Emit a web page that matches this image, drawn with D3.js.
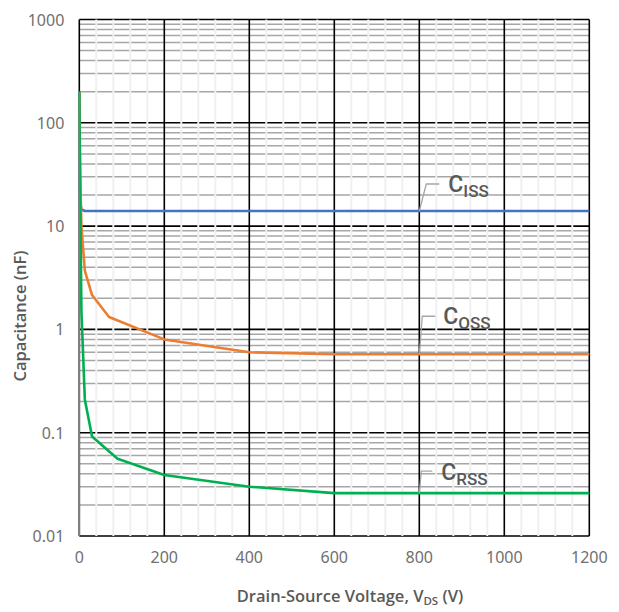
<!DOCTYPE html>
<html>
<head>
<meta charset="utf-8">
<script src="https://cdn.jsdelivr.net/npm/d3@7"></script>
<style>
  body { margin: 0; background: #fff; }
  svg { display: block; }
  text { font-family: "Noto Sans", "Open Sans", sans-serif; }
</style>
</head>
<body>
<div id="chart"></div>
<script>
// values (V in volts, C in nF)
const cissData = [[0, 200], [2, 17], [5, 14.5], [13, 14], [30, 14], [200, 14], [400, 14], [600, 14], [800, 14], [1200, 14]]
const cossData = [[0, 200], [2, 30], [5, 10], [13, 3.7], [30, 2.15], [70, 1.32], [200, 0.8], [400, 0.6], [600, 0.575], [800, 0.575], [1200, 0.575]]
const crssData = [[0, 200], [2, 20], [5, 1.5], [13, 0.21], [30, 0.092], [90, 0.056], [200, 0.039], [400, 0.03], [600, 0.026], [800, 0.026], [1200, 0.026]]

const xTicks = [0, 200, 400, 600, 800, 1000, 1200]
const yTicks = [0.01, 0.1, 1, 10, 100, 1000]

const width = 619
const height = 612
const margin = {top: 19.5, right: 29.7, bottom: 76, left: 79.3}

const svg = d3.select("#chart").append("svg")
  .attr("width", width)
  .attr("height", height)

const x = d3.scaleLinear().domain([0, 1200]).range([margin.left, width - margin.right])
const y = d3.scaleLog().domain([0.01, 1000]).range([height - margin.bottom, margin.top])

const grid = svg.append("g")

// minor horizontal lines (2..9 of each decade)
const minorY = []
for (let d = 0.01; d < 1000; d *= 10) {
  for (let k = 2; k <= 9; k++) minorY.push(d * k)
}
grid.selectAll("line.minor-y")
  .data(minorY)
  .join("line")
  .attr("x1", x(0)).attr("x2", x(1200))
  .attr("y1", d => y(d)).attr("y2", d => y(d))
  .attr("stroke", "#a6a6a6")
  .attr("stroke-width", 1.5)

grid.selectAll("line.major-y")
  .data(yTicks)
  .join("line")
  .attr("x1", x(0)).attr("x2", x(1200))
  .attr("y1", d => y(d)).attr("y2", d => y(d))
  .attr("stroke", "#000")
  .attr("stroke-width", 1.6)

// light minor verticals every 40 V, drawn over the horizontals
const minorX = d3.range(40, 1200, 40).filter(v => v % 200 !== 0)
grid.selectAll("line.minor-x")
  .data(minorX)
  .join("line")
  .attr("x1", d => x(d)).attr("x2", d => x(d))
  .attr("y1", y(1000)).attr("y2", y(0.01))
  .attr("stroke", "#f0f0f0")
  .attr("stroke-width", 2)

grid.selectAll("line.major-x")
  .data(xTicks)
  .join("line")
  .attr("x1", d => x(d)).attr("x2", d => x(d))
  .attr("y1", y(1000)).attr("y2", y(0.01))
  .attr("stroke", "#000")
  .attr("stroke-width", 1.6)

// axis labels
const tickColor = "#595959"
svg.append("g").selectAll("text")
  .data(xTicks)
  .join("text")
  .attr("x", d => x(d))
  .attr("y", y(0.01) + 27)
  .attr("text-anchor", "middle")
  .attr("fill", "#707070")
  .style("font-size", "16px")
  .text(d => d)

svg.append("g").selectAll("text")
  .data(yTicks)
  .join("text")
  .attr("x", margin.left - 15)
  .attr("y", d => y(d) + 6)
  .attr("text-anchor", "end")
  .attr("fill", "#707070")
  .style("font-size", "16px")
  .text(d => d)

// series
const line = d3.line().x(d => x(d[0])).y(d => y(d[1]))
const series = [
  {name: "ISS", data: cissData, color: "#4472c4", at: 800, lead: [[7, -27], [20, -27]], text: [29, -19]},
  {name: "OSS", data: cossData, color: "#ed7d31", at: 800, lead: [[3, -38], [16, -38]], text: [24, -30]},
  {name: "RSS", data: crssData, color: "#00b050", at: 800, lead: [[2, -22], [13, -22]], text: [22, -13]}
]

svg.append("g").selectAll("path")
  .data(series)
  .join("path")
  .attr("d", d => line(d.data))
  .attr("fill", "none")
  .attr("stroke", d => d.color)
  .attr("stroke-width", 2.6)
  .attr("stroke-linejoin", "round")

// grey axis line along the left edge where the curves start
svg.append("line")
  .attr("x1", x(0)).attr("x2", x(0))
  .attr("y1", y(200)).attr("y2", y(0.01))
  .attr("stroke", "#7f7f7f")
  .attr("stroke-width", 1.6)

// labels with leader lines
series.forEach(s => {
  const v = s.data.find(d => d[0] === s.at)[1]
  const px = x(s.at), py = y(v)
  svg.append("polyline")
    .attr("points", [[px, py], ...s.lead.map(o => [px + o[0], py + o[1]])].map(p => p.join(",")).join(" "))
    .attr("fill", "none")
    .attr("stroke", "#a6a6a6")
    .attr("stroke-width", 1.3)
  const t = svg.append("text")
    .attr("x", px + s.text[0])
    .attr("y", py + s.text[1])
    .attr("fill", tickColor)
    .style("font-family", "Roboto, sans-serif")
    .style("font-weight", "500")
  t.append("tspan").style("font-size", "23px").text("C")
  t.append("tspan").attr("dy", 5).style("font-size", "17px").text(s.name)
})

// titles
const xt = svg.append("text")
  .attr("x", 350)
  .attr("y", 602)
  .attr("text-anchor", "middle")
  .attr("fill", tickColor)
  .style("font-family", "'Open Sans', sans-serif")
  .style("font-size", "16.5px")
  .style("font-weight", "600")
xt.append("tspan").text("Drain-Source Voltage, V")
xt.append("tspan").attr("dy", 3).style("font-size", "11.5px").text("DS")
xt.append("tspan").attr("dy", -3).text(" (V)")

svg.append("text")
  .attr("transform", "translate(26,316) rotate(-90)")
  .attr("text-anchor", "middle")
  .attr("fill", tickColor)
  .style("font-family", "'Open Sans', sans-serif")
  .style("font-size", "16.5px")
  .style("font-weight", "600")
  .text("Capacitance (nF)")
</script>
</body>
</html>
